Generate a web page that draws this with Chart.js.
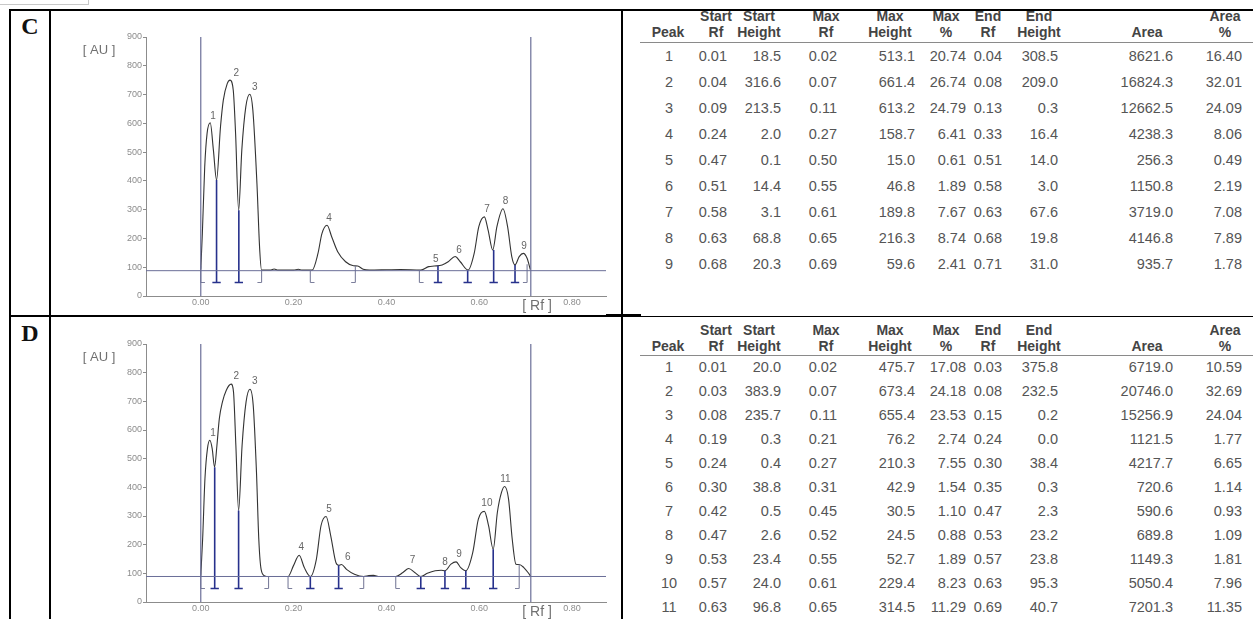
<!DOCTYPE html>
<html>
<head>
<meta charset="utf-8">
<script src="https://cdn.jsdelivr.net/npm/chart.js@4.4.1/dist/chart.umd.min.js"></script>
<style>
  body { margin: 0; width: 1253px; height: 619px; overflow: hidden; background: #fff; position: relative;
         font-family: "Liberation Sans", Arial, sans-serif; }
  .ln { position: absolute; background: #000; }
  .tag { position: absolute; font: bold 24px "Liberation Serif", "Times New Roman", serif; line-height: 24px;
         width: 38px; text-align: center; color: #111; }
  .cv { position: absolute; left: 52px; }
  .th, .td { position: absolute; width: 90px; height: 16px; line-height: 16px; white-space: nowrap; }
  .th { font-weight: bold; font-size: 14px; color: #444; text-align: center; }
  .td { font-size: 14.5px; color: #555; text-align: right; }
  .rule { position: absolute; left: 640px; width: 613px; height: 1px; background: #8a8a8a; }
</style>
</head>
<body>
<div style="position:absolute;left:-1px;top:-1px;width:88px;height:4px;border:1px solid #c8c8c8;"></div>
<div class="ln" style="left:9px;top:9px;width:1244px;height:2px"></div>
<div class="ln" style="left:9px;top:9px;width:2px;height:610px"></div>
<div class="ln" style="left:49px;top:9px;width:2px;height:610px"></div>
<div class="ln" style="left:621px;top:9px;width:2px;height:610px"></div>
<div class="ln" style="left:9px;top:315px;width:597px;height:2px"></div>
<div class="ln" style="left:606px;top:314px;width:35px;height:3px"></div>
<div class="ln" style="left:641px;top:316px;width:612px;height:1px"></div>
<div class="tag" style="left:11px;top:14px">C</div>
<div class="tag" style="left:11px;top:321px">D</div>

<canvas id="chartC" class="cv" style="top:12px" width="566" height="302"></canvas>
<canvas id="chartD" class="cv" style="top:319px" width="566" height="300"></canvas>
<div id="tables"></div>

<script>
// ---- axes ----
const xTicks = [0.00, 0.20, 0.40, 0.60, 0.80];
const yTicks = [0, 100, 200, 300, 400, 500, 600, 700, 800, 900];
const frameRf = [0.00, 0.711];   // application line and front

// ---- track C : densitogram ----
const cTraceRf = [0.000, 0.0034, 0.0085, 0.0136, 0.0204, 0.0272, 0.034, 0.0425, 0.0485, 0.057, 0.063, 0.070, 0.075,
  0.0816, 0.0884, 0.097, 0.1055, 0.1122, 0.121, 0.127, 0.131, 0.150, 0.158, 0.166, 0.200, 0.210, 0.218, 0.240,
  0.2525, 0.261, 0.272, 0.282, 0.295, 0.312, 0.329, 0.338, 0.350, 0.363, 0.400, 0.430, 0.474, 0.491, 0.503,
  0.520, 0.533, 0.548, 0.559, 0.576, 0.589, 0.599, 0.611, 0.619, 0.629, 0.638, 0.651, 0.661, 0.670, 0.677,
  0.686, 0.695, 0.703, 0.710];
const cTraceAU = [92, 217, 449, 565, 602, 507, 403, 588, 680, 738, 750, 715, 565,
  298, 507, 657, 701, 646, 391, 160, 90, 90, 94, 90, 90, 93, 90, 90,
  148, 217, 246, 206, 154, 119, 105, 104, 93, 90, 91, 92, 90, 102, 104,
  108, 119, 137, 119, 90, 148, 241, 275, 229, 160, 241, 303, 241, 137, 108,
  137, 148, 131, 92];
const cBaseline = 88;
const cBoundRf = [0.000, 0.034, 0.082, 0.131, 0.236, 0.333, 0.471, 0.511, 0.575, 0.631, 0.677, 0.703];
const cBoundAU = [105, 403, 298, 90, 90, 105, 90, 105, 90, 160, 108, 110];
const cBoundKind = ['s', 'j', 'j', 'e', 's', 'e', 's', 'j', 'j', 'j', 'j', 'e'];

// ---- track C : peak table ----
const cPeak = [1, 2, 3, 4, 5, 6, 7, 8, 9];
const cStartRf = [0.01, 0.04, 0.09, 0.24, 0.47, 0.51, 0.58, 0.63, 0.68];
const cStartH = [18.5, 316.6, 213.5, 2.0, 0.1, 14.4, 3.1, 68.8, 20.3];
const cMaxRf = [0.02, 0.07, 0.11, 0.27, 0.50, 0.55, 0.61, 0.65, 0.69];
const cMaxH = [513.1, 661.4, 613.2, 158.7, 15.0, 46.8, 189.8, 216.3, 59.6];
const cMaxPct = [20.74, 26.74, 24.79, 6.41, 0.61, 1.89, 7.67, 8.74, 2.41];
const cEndRf = [0.04, 0.08, 0.13, 0.33, 0.51, 0.58, 0.63, 0.68, 0.71];
const cEndH = [308.5, 209.0, 0.3, 16.4, 14.0, 3.0, 67.6, 19.8, 31.0];
const cArea = [8621.6, 16824.3, 12662.5, 4238.3, 256.3, 1150.8, 3719.0, 4146.8, 935.7];
const cAreaPct = [16.40, 32.01, 24.09, 8.06, 0.49, 2.19, 7.08, 7.89, 1.78];

// ---- track D : densitogram ----
const dTraceRf = [0.000, 0.004, 0.009, 0.0144, 0.0195, 0.0246, 0.0297, 0.0348, 0.040, 0.0467, 0.055, 0.0654, 0.0705,
  0.0756, 0.0815, 0.089, 0.0976, 0.106, 0.113, 0.120, 0.125, 0.130, 0.138, 0.146, 0.188, 0.1995, 0.212, 0.223,
  0.236, 0.249, 0.259, 0.270, 0.280, 0.291, 0.297, 0.303, 0.314, 0.331, 0.351, 0.362, 0.372, 0.385, 0.420,
  0.4355, 0.448, 0.461, 0.474, 0.488, 0.505, 0.518, 0.526, 0.539, 0.550, 0.560, 0.571, 0.586, 0.598, 0.611,
  0.620, 0.630, 0.639, 0.648, 0.6545, 0.663, 0.671, 0.679, 0.686, 0.696, 0.705, 0.711];
const dTraceAU = [92, 219, 430, 535, 564, 535, 470, 546, 640, 698, 739, 760, 733,
  546, 319, 546, 698, 742, 686, 453, 219, 114, 91, 89, 89, 126, 163, 120,
  89, 149, 266, 298, 231, 138, 128, 131, 114, 97, 89, 92, 93, 89, 89,
  103, 117, 103, 89, 100, 109, 111, 109, 132, 140, 120, 109, 173, 289, 316,
  266, 184, 313, 383, 403, 360, 219, 132, 131, 120, 103, 89];
const dBaseline = 89;
const dBoundRf = [0.000, 0.030, 0.0815, 0.146, 0.188, 0.236, 0.297, 0.351, 0.420, 0.474, 0.526, 0.571, 0.630, 0.686];
const dBoundAU = [105, 470, 319, 89, 89, 89, 128, 89, 89, 89, 109, 109, 184, 131];
const dBoundKind = ['s', 'j', 'j', 'e', 's', 'j', 'j', 'e', 's', 'j', 'j', 'j', 'j', 'e'];

// ---- track D : peak table ----
const dPeak = [1, 2, 3, 4, 5, 6, 7, 8, 9, 10, 11];
const dStartRf = [0.01, 0.03, 0.08, 0.19, 0.24, 0.30, 0.42, 0.47, 0.53, 0.57, 0.63];
const dStartH = [20.0, 383.9, 235.7, 0.3, 0.4, 38.8, 0.5, 2.6, 23.4, 24.0, 96.8];
const dMaxRf = [0.02, 0.07, 0.11, 0.21, 0.27, 0.31, 0.45, 0.52, 0.55, 0.61, 0.65];
const dMaxH = [475.7, 673.4, 655.4, 76.2, 210.3, 42.9, 30.5, 24.5, 52.7, 229.4, 314.5];
const dMaxPct = [17.08, 24.18, 23.53, 2.74, 7.55, 1.54, 1.10, 0.88, 1.89, 8.23, 11.29];
const dEndRf = [0.03, 0.08, 0.15, 0.24, 0.30, 0.35, 0.47, 0.53, 0.57, 0.63, 0.69];
const dEndH = [375.8, 232.5, 0.2, 0.0, 38.4, 0.3, 2.3, 23.2, 23.8, 95.3, 40.7];
const dArea = [6719.0, 20746.0, 15256.9, 1121.5, 4217.7, 720.6, 590.6, 689.8, 1149.3, 5050.4, 7201.3];
const dAreaPct = [10.59, 32.69, 24.04, 1.77, 6.65, 1.14, 0.93, 1.09, 1.81, 7.96, 11.35];

const headTop = ['', 'Start', 'Start', 'Max', 'Max', 'Max', 'End', 'End', '', 'Area'];
const headBot = ['Peak', 'Rf', 'Height', 'Rf', 'Height', '%', 'Rf', 'Height', 'Area', '%'];
const colDigits = [0, 2, 1, 2, 1, 2, 2, 1, 1, 2];

// ====================================================================================
// === chromatogram (Chart.js scatter with lines) ===
// ====================================================================================

const bracketAU = 47;
const tickW = 0.009;

const peakLabels = {
    id: 'peakLabels',
    afterDatasetsDraw(chart, args, opts) {
        const { ctx, chartArea, scales: { x, y } } = chart;
        ctx.save();
        ctx.fillStyle = '#666';
        ctx.font = '10px "Liberation Sans", Arial';
        ctx.textAlign = 'center';
        ctx.textBaseline = 'bottom';
        opts.peaks.forEach((p, i) => {
            ctx.fillText(String(p), x.getPixelForValue(opts.maxRf[i]) + 3,
                         y.getPixelForValue(opts.maxH[i] + opts.base) - 2);
        });
        ctx.fillStyle = '#707070';
        ctx.textBaseline = 'middle';
        ctx.font = '13px "Liberation Sans", Arial';
        ctx.fillText('[ AU ]', chartArea.left - 47, chartArea.top + 13);
        ctx.font = '14px "Liberation Sans", Arial';
        ctx.fillText('[ Rf ]', x.getPixelForValue(0.7245), chartArea.bottom + 10);
        ctx.restore();
    }
};

function drawChromatogram(id, traceRf, traceAU, base, bRf, bAU, bKind, peaks, maxRf, maxH, axisH) {
    const xMin = -0.118, xMax = 0.873;
    const pt = (x, y) => ({ x, y });
    const trace = traceRf.map((r, i) => pt(r, traceAU[i]));
    const frame = [];
    frameRf.forEach(r => frame.push(pt(r, 0), pt(r, 900), pt(r, null)));
    const joins = [], ends = [];
    bRf.forEach((r, i) => {
        const k = bKind[i];
        const out = k === 'j' ? joins : ends;
        out.push(pt(r, bracketAU), pt(r, bAU[i]), pt(r, null));
        const a = k === 's' ? r : r - tickW;
        const b = k === 'e' ? r : r + tickW;
        out.push(pt(a, bracketAU), pt(b, bracketAU), pt(b, null));
    });

    const line = (data, color, width) => ({
        data, showLine: true, pointRadius: 0, borderColor: color, borderWidth: width, spanGaps: false, tension: 0
    });

    new Chart(document.getElementById(id), {
        type: 'scatter',
        data: {
            datasets: [
                line([pt(xMin, base), pt(xMax, base)], '#6b6f98', 1),
                line(frame, '#6b6f98', 1.2),
                line(ends, '#7c7f9c', 1.1),
                line(joins, '#27318c', 1.6),
                Object.assign(line(trace, '#333333', 1.1), { cubicInterpolationMode: 'monotone' })
            ]
        },
        options: {
            responsive: false,
            animation: false,
            layout: { padding: { top: 25, right: 12, left: 0, bottom: 0 } },
            scales: {
                x: {
                    type: 'linear', min: xMin, max: xMax,
                    afterBuildTicks: a => { a.ticks = xTicks.map(v => ({ value: v })); },
                    afterFit: s => { s.height = axisH; },
                    grid: { drawOnChartArea: false, drawTicks: false },
                    border: { display: true, color: '#8c8c8c', width: 1 },
                    ticks: { font: { size: 9 }, color: '#8c8c8c', padding: 1, maxRotation: 0,
                             callback: v => Number(v).toFixed(2) }
                },
                y: {
                    min: 0, max: 900,
                    afterBuildTicks: a => { a.ticks = yTicks.map(v => ({ value: v })); },
                    afterFit: s => { s.width = 94; },
                    grid: { drawOnChartArea: false, tickLength: 3, color: '#8c8c8c' },
                    border: { display: true, color: '#8c8c8c', width: 1 },
                    ticks: { font: { size: 9 }, color: '#8c8c8c', padding: 1 }
                }
            },
            plugins: {
                legend: { display: false },
                tooltip: { enabled: false },
                peakLabels: { peaks, maxRf, maxH, base }
            }
        },
        plugins: [peakLabels]
    });
}

drawChromatogram('chartC', cTraceRf, cTraceAU, cBaseline, cBoundRf, cBoundAU, cBoundKind, cPeak, cMaxRf, cMaxH, 18);
drawChromatogram('chartD', dTraceRf, dTraceAU, dBaseline, dBoundRf, dBoundAU, dBoundKind, dPeak, dMaxRf, dMaxH, 17);

// ====================================================================================
// === peak tables ===
// ====================================================================================

const colCx = [668, 716, 759, 826, 890, 946, 988, 1039, 1147, 1225];
const colRx = [0, 727, 781, 837, 915, 966, 1002, 1058, 1173, 1242];

function buildTable(cols, yStart, yPeak, yRule, yRow0, rowStep) {
    const host = document.getElementById('tables');
    const cell = (cls, txt, left, yc, align) => {
        const d = document.createElement('div');
        d.className = cls;
        d.textContent = txt;
        d.style.left = left + 'px';
        d.style.top = (yc - 8) + 'px';
        if (align) d.style.textAlign = align;
        host.appendChild(d);
    };
    headTop.forEach((t, j) => { if (t) cell('th', t, colCx[j] - 45, yStart); });
    headBot.forEach((t, j) => cell('th', t, colCx[j] - 45, yPeak));
    const r = document.createElement('div');
    r.className = 'rule';
    r.style.top = yRule + 'px';
    host.appendChild(r);
    cols[0].forEach((_, i) => {
        const yc = yRow0 + i * rowStep;
        cols.forEach((col, j) => {
            const txt = col[i].toFixed(colDigits[j]);
            if (j === 0) cell('td', txt, colCx[0] + 1 - 45, yc, 'center');
            else cell('td', txt, colRx[j] - 90, yc);
        });
    });
}

buildTable([cPeak, cStartRf, cStartH, cMaxRf, cMaxH, cMaxPct, cEndRf, cEndH, cArea, cAreaPct], 16, 32, 42, 56, 26);
buildTable([dPeak, dStartRf, dStartH, dMaxRf, dMaxH, dMaxPct, dEndRf, dEndH, dArea, dAreaPct], 330, 346, 355, 367, 24);
</script>
</body>
</html>
